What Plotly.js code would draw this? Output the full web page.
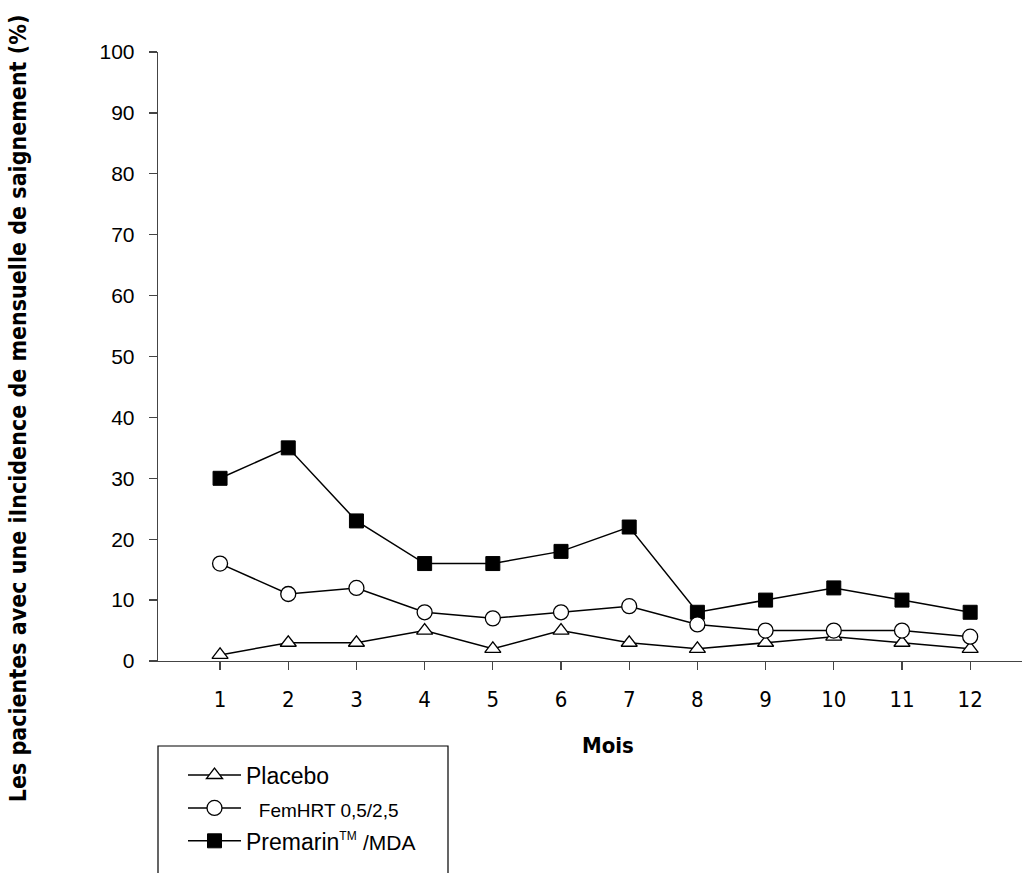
<!DOCTYPE html>
<html>
<head>
<meta charset="utf-8">
<script src="https://cdn.plot.ly/plotly-3.0.1.min.js"></script>
<style>html,body{margin:0;padding:0;background:#fff;}#chart{width:1025px;height:873px;}</style>
</head>
<body>
<div id="chart"></div>
<script>
const months = [1,2,3,4,5,6,7,8,9,10,11,12];
const placebo = [1,3,3,5,2,5,3,2,3,4,3,2];
const femhrt = [16,11,12,8,7,8,9,6,5,5,5,4];
const premarin = [30,35,23,16,16,18,22,8,10,12,10,8];
const yTicks = [0,10,20,30,40,50,60,70,80,90,100];

const narrow = '"Liberation Sans Narrow", "DejaVu Sans Condensed", Arial, sans-serif';
const sans = '"Liberation Sans", Arial, sans-serif';

const lineStyle = {color:'#000', width:1.5};
const traces = [
  {x: months, y: premarin, mode:'lines+markers',
   name:'Premarin<sup><span style="font-size:12px">TM</span></sup> <span style="font-size:21px">/MDA</span>',
   legendrank:3, legendgroup:'c',
   line: lineStyle, marker:{symbol:'square', size:14, color:'#000', line:{color:'#000', width:1}}},
  {x: months, y: placebo, mode:'lines+markers', name:'Placebo',
   legendrank:1, legendgroup:'a',
   line: lineStyle, marker:{symbol:'triangle-up', size:14, color:'#fff', line:{color:'#000', width:1.3}}},
  {x: months, y: femhrt, mode:'lines+markers', name:'  <span style="font-size:19px">FemHRT 0,5/2,5</span>',
   legendrank:2, legendgroup:'b',
   line: lineStyle, marker:{symbol:'circle', size:15, color:'#fff', line:{color:'#000', width:1.3}}}
];

const layout = {
  width:1025, height:873,
  margin:{l:158, r:3, t:52, b:212},
  paper_bgcolor:'#fff', plot_bgcolor:'#fff',
  showlegend:true,
  legend:{x:(183-158)/864, y:-0.152, xanchor:'left', yanchor:'top', bgcolor:'rgba(0,0,0,0)',
          borderwidth:0, traceorder:'grouped', tracegroupgap:0,
          font:{family:sans, size:23, color:'#000'}, itemwidth:53},
  xaxis:{range:[0.09,12.76], tickvals:months, ticktext:months.map(String),
         showline:true, linecolor:'#444', linewidth:1.3, showgrid:false, zeroline:false,
         ticks:'outside', ticklen:8, tickcolor:'#444', tickwidth:1.3,
         ticklabelstandoff:10,
         tickfont:{family:narrow, size:22, color:'#000'}},
  yaxis:{range:[0,100], tickvals:yTicks, showline:true, linecolor:'#444', linewidth:1.3,
         showgrid:false, zeroline:false, ticks:'outside', ticklen:8, tickcolor:'#444', tickwidth:1.3,
         ticklabelstandoff:10,
         tickfont:{family:sans, size:21, color:'#000'}},
  annotations:[
    {text:'<b>Les pacientes avec une iIncidence de mensuelle de saignement (%)</b>',
     xref:'paper', yref:'paper', x:-0.162, y:0.415, textangle:-90, showarrow:false,
     xanchor:'center', yanchor:'middle', font:{family:narrow, size:23, color:'#000'}},
    {text:'<b>Mois</b>', xref:'paper', yref:'paper', x:(608-158)/864, y:(661-745)/609,
     showarrow:false, xanchor:'center', yanchor:'middle', font:{family:narrow, size:22, color:'#000'}}
  ],
  shapes:[
    {type:'rect', xref:'paper', yref:'paper', x0:0, x1:290/864, y0:-0.4, y1:(661-746)/609,
     line:{color:'#000', width:1.2}, fillcolor:'rgba(0,0,0,0)'}
  ]
};

Plotly.newPlot('chart', traces, layout, {displayModeBar:false, staticPlot:true});
</script>
</body>
</html>
